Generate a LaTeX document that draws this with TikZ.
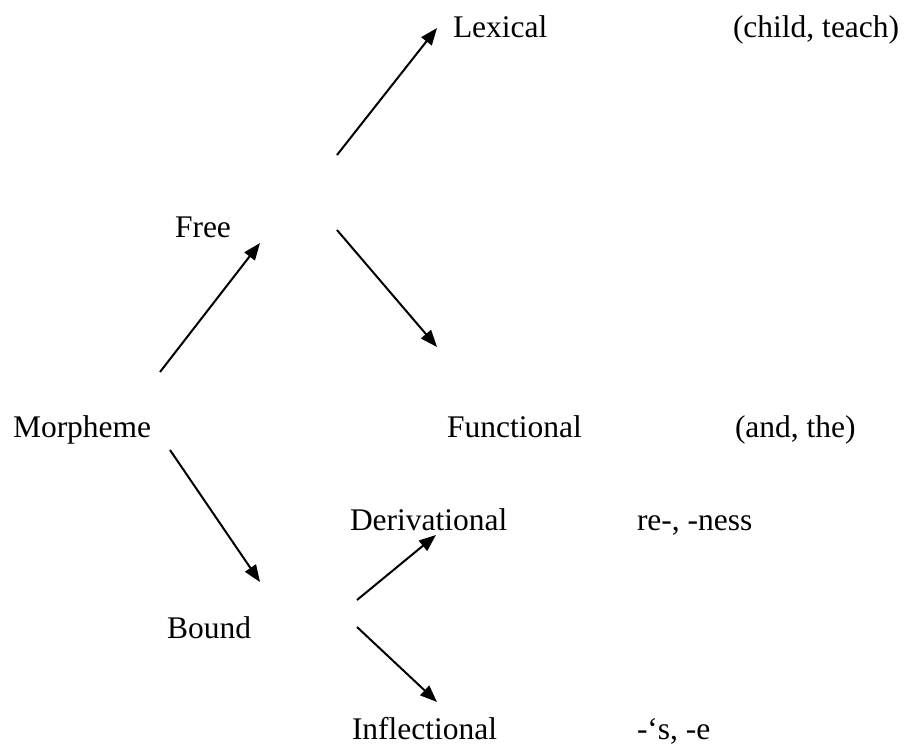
\documentclass[tikz,border=0pt]{standalone}
\usepackage{fontspec}
\setmainfont{Liberation Serif}
\usetikzlibrary{arrows.meta}
\begin{document}
\begin{tikzpicture}[x=1pt,y=-1pt,
  lbl/.style={anchor=base west,inner sep=0pt,outer sep=0pt,font=\fontsize{31.5}{38}\selectfont},
  arr/.style={line width=2pt,-{Triangle[length=17pt,width=13pt]}}]
\useasboundingbox[fill=white] (0,0) rectangle (906,747);
% texts
\node[lbl] (lex) at (453,37) {Lexical};
\node[lbl] (lexex) at (733,37) {(child, teach)};
\node[lbl] (free) at (175,237) {Free};
\node[lbl] (morph) at (13,437) {Morpheme};
\node[lbl] (func) at (447,437) {Functional};
\node[lbl] (funcex) at (735,437) {(and, the)};
\node[lbl] (deriv) at (350,530) {Derivational};
\node[lbl] (derivex) at (637,530) {re-, -ness};
\node[lbl] (bound) at (167,638) {Bound};
\node[lbl] (infl) at (352,739) {Inflectional};
\node[lbl] (inflex) at (637,739) {-‘s, -e};
% arrow endpoints
\coordinate (fl1) at (337,155); \coordinate (fl2) at (437,28);
\coordinate (ff1) at (337,230); \coordinate (ff2) at (437,347);
\coordinate (mf1) at (160,372); \coordinate (mf2) at (260,243);
\coordinate (mb1) at (170,450); \coordinate (mb2) at (260,582);
\coordinate (bd1) at (357,600); \coordinate (bd2) at (436,535);
\coordinate (bi1) at (357,627); \coordinate (bi2) at (437,702);
% arrows
\draw[arr] (fl1) -- (fl2);
\draw[arr] (ff1) -- (ff2);
\draw[arr] (mf1) -- (mf2);
\draw[arr] (mb1) -- (mb2);
\draw[arr] (bd1) -- (bd2);
\draw[arr] (bi1) -- (bi2);
\end{tikzpicture}
\end{document}
